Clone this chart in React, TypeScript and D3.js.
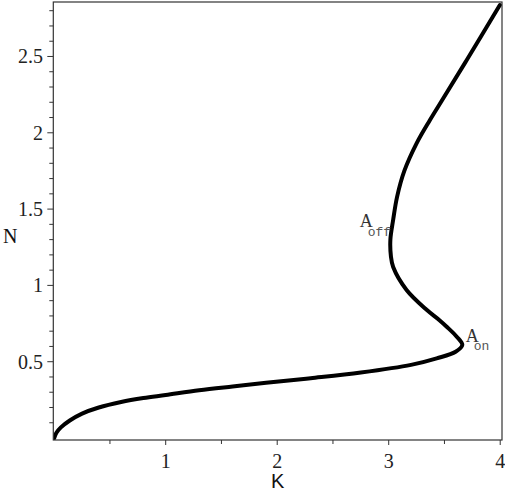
import React from "react";
import * as d3 from "d3";

// N (vertical) and K (horizontal), ordered by N
const nValues = [
  0, 0.035, 0.07, 0.115, 0.16, 0.2, 0.236, 0.262, 0.282, 0.313, 0.338, 0.362,
  0.392, 0.429, 0.479, 0.522, 0.565, 0.61, 0.664, 0.729, 0.775, 0.84, 0.97,
  1.12, 1.19, 1.3, 1.43, 1.58, 1.75, 1.931, 2.084, 2.215, 2.477, 2.837,
];
const kValues = [
  0, 0.02, 0.06, 0.14, 0.25, 0.4, 0.6, 0.8, 1.0, 1.3, 1.6, 1.9, 2.3, 2.75,
  3.2, 3.43, 3.6, 3.66, 3.61, 3.52, 3.45, 3.34, 3.16, 3.04, 3.02, 3.015, 3.04,
  3.075, 3.14, 3.25, 3.37, 3.48, 3.7, 3.997,
];

const xTicks = [1, 2, 3, 4];
const xMinor = [0.5, 1.5, 2.5, 3.5];
const yTicks = [0.5, 1, 1.5, 2, 2.5];
const yMinor = d3.range(1, 29).map((i) => i / 10).filter((v) => Math.round(v * 10) % 5 !== 0);

// labelled points on the curve
const markers = [
  { base: "A", sub: "off", k: 2.74, n: 1.38 },
  { base: "A", sub: "on", k: 3.69, n: 0.63 },
];

const W = 505;
const H = 491;
const left = 53.3;
const right = 502;
const top = 2;
const bottom = 440;

const serif = "'Liberation Serif', 'Times New Roman', Times, 'DejaVu Serif', serif";
const mono = "'Liberation Mono', 'Courier New', 'DejaVu Sans Mono', monospace";

export default function App() {
  const x = d3.scaleLinear().domain([-0.008, 4.016]).range([left, right]);
  const y = d3.scaleLinear().domain([-0.013, 2.857]).range([bottom, top]);

  const pts = nValues.map((n, i) => [kValues[i], n] as [number, number]);
  const line = d3
    .line<[number, number]>()
    .x((d) => x(d[0]))
    .y((d) => y(d[1]))
    .curve(d3.curveCatmullRom.alpha(0.5));

  return (
    <svg
      width={W}
      height={H}
      style={{ position: "fixed", left: 0, top: 0, background: "#fff" }}
    >
      <defs>
        <clipPath id="plot">
          <rect x={left} y={top} width={right - left} height={bottom - top} />
        </clipPath>
      </defs>

      <path
        d={line(pts) || ""}
        fill="none"
        stroke="#000"
        strokeWidth={4}
        strokeLinejoin="round"
        strokeLinecap="round"
        clipPath="url(#plot)"
      />

      <rect
        x={left}
        y={top}
        width={right - left}
        height={bottom - top}
        fill="none"
        stroke="#333"
        strokeWidth={1.2}
      />

      {/* x axis ticks */}
      {xTicks.map((t) => (
        <g key={"xt" + t}>
          <line x1={x(t)} x2={x(t)} y1={bottom} y2={bottom + 5} stroke="#333" />
          <text
            x={x(t)}
            y={468}
            textAnchor="middle"
            fontFamily={serif}
            fontSize={20}
            fill="#222"
          >
            {t}
          </text>
        </g>
      ))}
      {xMinor.map((t) => (
        <line key={"xm" + t} x1={x(t)} x2={x(t)} y1={bottom} y2={bottom + 4} stroke="#333" />
      ))}

      {/* y axis ticks */}
      {yTicks.map((t) => (
        <g key={"yt" + t}>
          <line x1={left - 6} x2={left} y1={y(t)} y2={y(t)} stroke="#333" />
          <text
            x={43}
            y={y(t) + 7}
            textAnchor="end"
            fontFamily={serif}
            fontSize={20}
            fill="#222"
          >
            {t}
          </text>
        </g>
      ))}
      {yMinor.map((t) => (
        <line key={"ym" + t} x1={left - 4} x2={left} y1={y(t)} y2={y(t)} stroke="#333" />
      ))}

      {/* axis titles */}
      <text
        x={(left + right) / 2}
        y={488}
        textAnchor="middle"
        fontFamily="'Liberation Sans', Arial, sans-serif"
        fontSize={20}
        fill="#111"
      >
        K
      </text>
      <text x={3} y={243} fontFamily={serif} fontSize={20} fill="#111">
        N
      </text>

      {/* point labels */}
      {markers.map((m) => (
        <text key={m.sub} x={x(m.k)} y={y(m.n)} fontFamily={serif} fontSize={18} fill="#333">
          {m.base}
          <tspan dx={-5} dy={8.5} fontFamily={mono} fontSize={13} fill="#555">
            {m.sub}
          </tspan>
        </text>
      ))}
    </svg>
  );
}
